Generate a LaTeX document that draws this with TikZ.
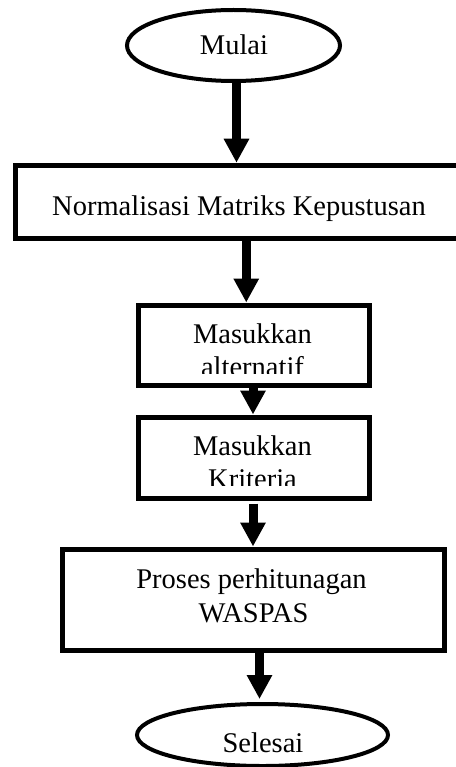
\documentclass[tikz,border=0pt]{standalone}
\usepackage{fontspec}
\setmainfont{Liberation Serif}
\usetikzlibrary{shapes.geometric,arrows.meta}
\tikzset{
  procbox/.style={draw=black,line width=5pt,fill=white,rectangle,inner sep=0pt},
  termnode/.style={draw=black,line width=4pt,fill=white,ellipse,inner sep=0pt},
  lbl/.style={anchor=base,inner sep=0pt,font=\fontsize{28.5}{34}\selectfont},
  arr/.style={line width=9pt,-{Triangle[width=24pt,length=24pt]}}
}
\begin{document}
\begin{tikzpicture}[x=1pt,y=-1pt]
\useasboundingbox[fill=white] (0,0) rectangle (455,767);
% shapes
\node[termnode,minimum width=213pt,minimum height=71pt] (mulai) at (233.5,45.5) {};
\node[procbox,minimum width=444.5pt,minimum height=73.5pt] (norm) at (237.75,202) {};
\node[procbox,minimum width=231.5pt,minimum height=80pt] (alt) at (253.75,345) {};
\node[procbox,minimum width=231.5pt,minimum height=81pt] (krit) at (253.75,457.5) {};
\node[procbox,minimum width=382pt,minimum height=101pt] (proses) at (253.5,599.5) {};
\node[termnode,minimum width=251pt,minimum height=62pt] (selesai) at (262.5,735) {};
% texts
\node[lbl] (tmulai) at (234,55) {Mulai};
\node[lbl] (tnorm) at (239,215) {Normalisasi Matriks Kepustusan};
\begin{scope}
  \clip (alt.north west) rectangle ([yshift=14pt]alt.south east);
  \node[lbl] (talt1) at (252.5,343) {Masukkan};
  \node[lbl] (talt2) at (252.5,376) {alternatif};
\end{scope}
\begin{scope}
  \clip (krit.north west) rectangle ([yshift=15pt]krit.south east);
  \node[lbl] (tkrit1) at (252.5,455) {Masukkan};
  \node[lbl] (tkrit2) at (252.5,488) {Kriteria};
\end{scope}
\node[lbl] (tpro1) at (251.5,588) {Proses perhitunagan};
\node[lbl] (tpro2) at (253.5,622) {WASPAS};
\node[lbl] (tsel) at (263,752) {Selesai};
% connectors
\draw[arr] ([xshift=3pt]mulai.south) -- ([xshift=3pt]mulai.south |- norm.north);
\draw[arr] ([xshift=8.5pt]norm.south) -- ([xshift=8.5pt]norm.south |- alt.north);
\draw[arr] ([xshift=-0.75pt]alt.south) -- ([xshift=-0.75pt]alt.south |- krit.north);
\draw[arr] ([xshift=-0.75pt,yshift=-3pt]krit.south) -- ([xshift=-0.75pt]krit.south |- proses.north);
\draw[arr] ([xshift=6pt]proses.south) -- ([xshift=6pt,yshift=3pt]proses.south |- selesai.north);
\end{tikzpicture}
\end{document}
